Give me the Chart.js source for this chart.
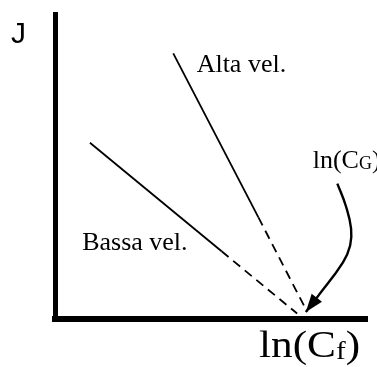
<!DOCTYPE html>
<html>
<head>
<meta charset="utf-8">
<script src="https://cdn.jsdelivr.net/npm/chart.js@4/dist/chart.umd.min.js"></script>
<style>
    html, body { margin: 0; padding: 0; background: #fff; }
    canvas { display: block; }
</style>
</head>
<body>
<canvas id="flux" width="377" height="367"></canvas>
<script>
// flux J against ln(C_f), arbitrary units (0..100 on both axes)
const altaX = [37.9, 65.2, 80.8];
const altaY = [87.1, 33.3, 2.4];
const bassaX = [11.2, 53.4, 77.6];
const bassaY = [57.8, 22.2, 1.8];
// pointer from the ln(C_G) label down to the intercept
const arrowX = [90.5, 93.3, 94.9, 94.6, 92.3, 84.3, 80.4];
const arrowY = [44.4, 36.8, 29.6, 24.1, 18.6, 7.5, 2.3];

const toPoints = (xs, ys) => xs.map((v, i) => ({ x: v, y: ys[i] }));
// last stretch of each line is the extrapolation, drawn dashed
const dashTail = { borderDash: (c) => (c.p0DataIndex === 1 ? [9, 6] : undefined) };

const serif = '"Liberation Serif", "Times New Roman", serif';

function withSub(ctx, x, y, main, sub, size, subSize, drop) {
    ctx.font = size + "px " + serif;
    ctx.fillText(main, x, y);
    let w = ctx.measureText(main).width;
    ctx.font = subSize + "px " + serif;
    ctx.fillText(sub, x + w, y + drop);
    w += ctx.measureText(sub).width;
    ctx.font = size + "px " + serif;
    ctx.fillText(")", x + w, y);
}

const notes = {
    id: "notes",
    afterDatasetsDraw(chart) {
        const { ctx, chartArea, scales } = chart;
        const sx = (v) => scales.x.getPixelForValue(v);
        const sy = (v) => scales.y.getPixelForValue(v);

        // arrowhead on the pointer
        const pts = chart.getDatasetMeta(2).data;
        const tip = pts[pts.length - 1];
        const prev = pts[pts.length - 2];
        const ang = Math.atan2(tip.y - prev.y, tip.x - prev.x);
        ctx.save();
        ctx.fillStyle = "#000";
        ctx.translate(tip.x, tip.y);
        ctx.rotate(ang);
        ctx.beginPath();
        ctx.moveTo(0, 0);
        ctx.lineTo(-18, -6.5);
        ctx.lineTo(-18, 6.5);
        ctx.closePath();
        ctx.fill();
        ctx.restore();

        ctx.save();
        ctx.fillStyle = "#000";
        ctx.textBaseline = "alphabetic";
        ctx.textAlign = "left";
        ctx.font = "26px " + serif;
        ctx.fillText("Alta vel.", sx(45.4), sy(81.1));
        ctx.fillText("Bassa vel.", sx(8.7), sy(22.5));
        withSub(ctx, sx(82.6), sy(49.6), "ln(C", "G", 26, 18, 1);

        // axis names
        ctx.font = '30px "Liberation Sans", Arial, sans-serif';
        ctx.fillText("J", chartArea.left - 44, chartArea.top + 29);
        // x name is set a little wide
        ctx.translate(chartArea.left + 204, chartArea.bottom + 38);
        ctx.scale(1.17, 1);
        withSub(ctx, 0, 0, "ln(C", "f", 37, 25, 2);
        ctx.restore();
    }
};

const lineStyle = {
    showLine: true,
    borderColor: "#000",
    backgroundColor: "#000",
    borderWidth: 1.8,
    pointRadius: 0,
    fill: false
};

new Chart(document.getElementById("flux"), {
    type: "scatter",
    data: {
        datasets: [
            { ...lineStyle, label: "Alta vel.", data: toPoints(altaX, altaY), segment: dashTail },
            { ...lineStyle, label: "Bassa vel.", data: toPoints(bassaX, bassaY), segment: dashTail },
            { ...lineStyle, label: "ln(C_G)", data: toPoints(arrowX, arrowY), borderWidth: 2.4, tension: 0.45 }
        ]
    },
    options: {
        responsive: false,
        animation: false,
        devicePixelRatio: 1,
        layout: { padding: { left: 55, right: 10, top: 14, bottom: 48 } },
        plugins: {
            legend: { display: false },
            tooltip: { enabled: false }
        },
        scales: {
            x: {
                type: "linear",
                min: 0,
                max: 100,
                ticks: { display: false },
                grid: { display: false, drawTicks: false },
                border: { display: true, color: "#000", width: 6 }
            },
            y: {
                type: "linear",
                min: 0,
                max: 100,
                ticks: { display: false },
                grid: { display: false, drawTicks: false },
                border: { display: true, color: "#000", width: 5 }
            }
        }
    },
    plugins: [notes]
});
</script>
</body>
</html>
